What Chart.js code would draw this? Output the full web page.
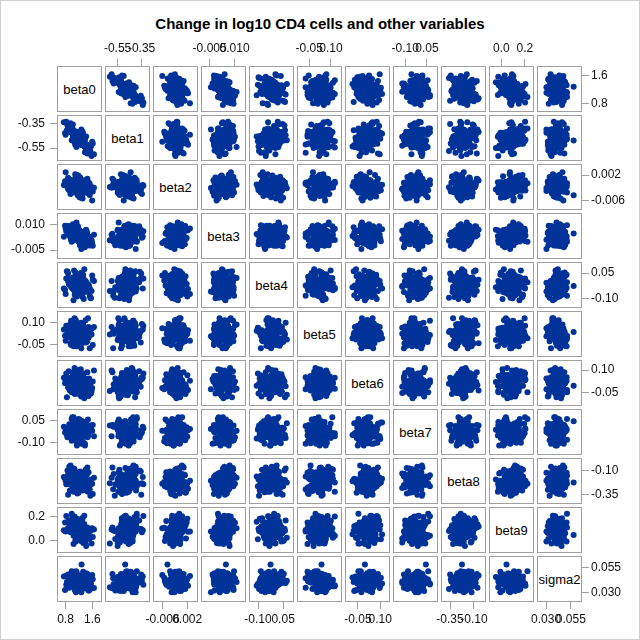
<!DOCTYPE html>
<html>
<head>
<meta charset="utf-8">
<title>Change in log10 CD4 cells and other variables</title>
<script src="https://cdn.jsdelivr.net/npm/chart.js@4.4.0/dist/chart.umd.min.js"></script>
<style>
  html, body { margin: 0; padding: 0; background: #fff; }
  #plot { position: relative; width: 640px; height: 640px; overflow: hidden;
          font-family: "Liberation Sans", Arial, sans-serif; }
  #frame { position: absolute; left: 0; top: 0; width: 640px; height: 640px;
           box-sizing: border-box; border: 1px solid #cfcfcf; }
  #title { position: absolute; left: 0; top: 16px; width: 640px; text-align: center;
           font-size: 15px; line-height: 16px; font-weight: bold; color: #000; }
  .box { position: absolute; box-sizing: border-box; width: 45px; height: 46px;
         border: 1px solid #a0a0a0; }
  .box canvas { display: block; }
  .diag { width: 43px; height: 44px; display: flex; align-items: center;
          justify-content: center; font-size: 13px; color: #000; white-space: nowrap; }
  canvas.axis { position: absolute; pointer-events: none; }
</style>
</head>
<body>
<div id="plot">
  <div id="frame"></div>
  <div id="title">Change in log10 CD4 cells and other variables</div>
</div>
<script>
(function() {
    'use strict';

    // Variables, axis ticks and axis ranges
    const varNames = ['beta0', 'beta1', 'beta2', 'beta3', 'beta4', 'beta5',
                      'beta6', 'beta7', 'beta8', 'beta9', 'sigma2'];
    const tickValues = [[0.8, 1.6], [-0.55, -0.35], [-0.006, 0.002], [-0.005, 0.010],
                        [-0.10, 0.05], [-0.05, 0.10], [-0.05, 0.10], [-0.10, 0.05],
                        [-0.35, -0.10], [0.0, 0.2], [0.030, 0.055]];
    const tickLabels = [['0.8', '1.6'], ['-0.55', '-0.35'], ['-0.006', '0.002'], ['-0.005', '0.010'],
                        ['-0.10', '0.05'], ['-0.05', '0.10'], ['-0.05', '0.10'], ['-0.10', '0.05'],
                        ['-0.35', '-0.10'], ['0.0', '0.2'], ['0.030', '0.055']];
    const axisMin = [0.575, -0.647, -0.0088, -0.0096, -0.148, -0.128, -0.131, -0.178, -0.434, -0.096, 0.0219];
    const axisMax = [1.860, -0.288, 0.0052, 0.0163, 0.109, 0.170, 0.160, 0.120, 0.016, 0.269, 0.0652];

    // Posterior draws (one entry per draw, same order in every array)
    const beta0 = [1.254, 0.984, 1.344, 1.182, 1.470, 1.092, 1.200, 1.578, 1.038, 1.290,
        0.876, 1.236, 1.398, 1.128, 1.164, 1.326, 0.786, 1.362, 1.074, 1.434,
        1.218, 1.020, 1.272, 1.146, 1.524, 0.948, 1.308, 1.110, 1.205, 1.380,
        1.056, 1.650, 0.912, 1.250, 1.190, 1.416, 1.002, 1.280, 1.100, 1.350,
        0.840, 1.230, 1.488, 1.140, 1.040, 1.310, 1.220, 0.966, 1.452, 1.130,
        1.360, 1.160, 0.930, 1.270, 1.596, 1.070, 1.195, 0.858, 1.400, 1.330,
        1.110, 1.260, 1.020, 1.506,
        1.146, 1.416, 1.056, 1.218, 0.930, 1.308, 1.200, 0.822, 1.362, 1.110,
        1.524, 1.164, 1.002, 1.272, 1.236, 1.074, 1.614, 1.038, 1.326, 0.966,
        1.182, 1.380, 1.128, 1.254, 0.876, 1.452, 1.092, 1.290, 1.195, 1.020,
        1.344, 0.750, 1.488, 1.150, 1.210, 0.984, 1.398, 1.120, 1.300, 1.050,
        1.560, 1.170, 0.912, 1.260, 1.360, 1.090, 1.180, 1.434, 0.948, 1.270,
        1.040, 1.240, 1.470, 1.130, 0.804, 1.330, 1.205, 1.542, 1.000, 1.070,
        1.290, 1.140, 1.380, 0.894];
    const beta1 = [-0.465, -0.485, -0.495, -0.428, -0.544, -0.453, -0.446, -0.615, -0.403, -0.515,
        -0.353, -0.475, -0.549, -0.440, -0.473, -0.435, -0.427, -0.485, -0.460, -0.522,
        -0.439, -0.458, -0.399, -0.514, -0.532, -0.418, -0.452, -0.489, -0.453, -0.531,
        -0.410, -0.600, -0.399, -0.426, -0.477, -0.550, -0.405, -0.487, -0.492, -0.453,
        -0.404, -0.447, -0.541, -0.511, -0.420, -0.417, -0.499, -0.418, -0.593, -0.416,
        -0.482, -0.480, -0.400, -0.521, -0.499, -0.432, -0.512, -0.366, -0.518, -0.446,
        -0.471, -0.482, -0.357, -0.570,
        -0.475, -0.455, -0.445, -0.512, -0.396, -0.487, -0.494, -0.335, -0.537, -0.425,
        -0.587, -0.465, -0.391, -0.500, -0.467, -0.505, -0.513, -0.455, -0.480, -0.418,
        -0.501, -0.482, -0.541, -0.426, -0.408, -0.522, -0.488, -0.451, -0.487, -0.409,
        -0.530, -0.340, -0.541, -0.514, -0.463, -0.390, -0.535, -0.453, -0.448, -0.487,
        -0.536, -0.493, -0.399, -0.429, -0.520, -0.523, -0.441, -0.522, -0.347, -0.524,
        -0.458, -0.460, -0.540, -0.419, -0.441, -0.508, -0.428, -0.574, -0.422, -0.494,
        -0.469, -0.458, -0.583, -0.370];
    const beta2 = [-0.00214, -0.00035, -0.00189, -0.00286, -0.00016, -0.00270, -0.00147, -0.00181, -0.00170, -0.00013,
        -0.00235, 0.00126, -0.00355, -0.00127, -0.00131, -0.00222, 0.00002, -0.00219, -0.00137, -0.00160,
        -0.00503, 0.00011, -0.00211, -0.00034, -0.00436, 0.00030, -0.00299, -0.00187, -0.00030, -0.00234,
        -0.00057, -0.00201, -0.00241, -0.00273, 0.00147, -0.00260, -0.00128, -0.00443, 0.00136, -0.00257,
        -0.00034, -0.00217, -0.00389, 0.00205, -0.00089, -0.00547, -0.00007, -0.00073, 0.00085, -0.00300,
        -0.00290, 0.00160, -0.00183, -0.00041, -0.00610, -0.00108, 0.00082, -0.00134, -0.00260, -0.00258,
        -0.00355, -0.00071, -0.00354, -0.00050,
        -0.00106, -0.00285, -0.00131, -0.00034, -0.00304, -0.00050, -0.00173, -0.00139, -0.00150, -0.00307,
        -0.00085, -0.00446, 0.00035, -0.00193, -0.00189, -0.00098, -0.00322, -0.00101, -0.00183, -0.00160,
        0.00183, -0.00331, -0.00109, -0.00286, 0.00116, -0.00350, -0.00021, -0.00133, -0.00290, -0.00086,
        -0.00263, -0.00119, -0.00079, -0.00047, -0.00467, -0.00060, -0.00192, 0.00123, -0.00456, -0.00063,
        -0.00286, -0.00103, 0.00069, -0.00525, -0.00231, 0.00227, -0.00313, -0.00247, -0.00405, -0.00020,
        -0.00030, -0.00480, -0.00137, -0.00279, 0.00290, -0.00212, -0.00402, -0.00186, -0.00060, -0.00062,
        0.00035, -0.00249, 0.00034, -0.00270];
    const beta3 = [0.00276, 0.00899, 0.00396, 0.00008, 0.00098, 0.00507, 0.00326, 0.00090, 0.00371, 0.00591,
        0.00426, -0.00153, 0.00655, 0.00327, 0.00183, 0.00102, 0.00941, 0.00248, 0.00556, -0.00215,
        0.00481, 0.01024, -0.00423, 0.00681, -0.00218, 0.00708, 0.00200, 0.00645, 0.00170, 0.00156,
        0.00564, 0.00402, 0.00477, 0.00164, 0.00143, 0.00699, 0.00290, 0.00480, 0.00927, -0.00240,
        0.00847, -0.00207, 0.00311, 0.00653, 0.00300, 0.00012, 0.00494, 0.00094, 0.00464, 0.00162,
        0.00367, 0.00239, 0.00418, 0.00475, -0.00083, 0.00729, 0.00143, 0.00650, 0.00138, -0.00067,
        0.00972, 0.00050, 0.00722, -0.00203,
        0.00424, -0.00199, 0.00304, 0.00692, 0.00602, 0.00193, 0.00374, 0.00610, 0.00329, 0.00109,
        0.00274, 0.00853, 0.00045, 0.00373, 0.00517, 0.00598, -0.00241, 0.00452, 0.00144, 0.00915,
        0.00219, -0.00324, 0.01123, 0.00019, 0.00918, -0.00008, 0.00500, 0.00055, 0.00530, 0.00544,
        0.00136, 0.00298, 0.00223, 0.00536, 0.00557, 0.00001, 0.00410, 0.00220, -0.00227, 0.00940,
        -0.00147, 0.00907, 0.00389, 0.00047, 0.00400, 0.00688, 0.00206, 0.00606, 0.00236, 0.00538,
        0.00333, 0.00461, 0.00282, 0.00225, 0.00783, -0.00029, 0.00557, 0.00050, 0.00562, 0.00767,
        -0.00272, 0.00650, -0.00022, 0.00903];
    const beta4 = [-0.025, 0.007, -0.101, 0.014, -0.043, 0.029, -0.014, -0.054, -0.004, -0.029,
        0.047, -0.068, 0.004, -0.036, -0.018, 0.018, -0.047, 0.072, -0.076, -0.007,
        -0.022, 0.025, -0.058, 0.000, -0.040, 0.011, -0.090, -0.011, 0.040, -0.029,
        -0.050, 0.004, -0.014, -0.065, 0.032, -0.032, 0.014, -0.025, -0.072, -0.004,
        0.061, -0.043, -0.018, -0.086, 0.022, 0.007, -0.036, -0.007, -0.054, 0.043,
        -0.007, -0.061, 0.011, -0.022, 0.036, -0.040, -0.018, 0.058, -0.050, 0.000,
        -0.083, -0.011, 0.022, -0.032,
        -0.011, -0.043, 0.065, -0.050, 0.007, -0.065, -0.022, 0.018, -0.032, -0.007,
        -0.083, 0.032, -0.040, 0.000, -0.018, -0.054, 0.011, -0.108, 0.040, -0.029,
        -0.014, -0.061, 0.022, -0.036, 0.004, -0.047, 0.054, -0.025, -0.076, -0.007,
        0.014, -0.040, -0.022, 0.029, -0.068, -0.004, -0.050, -0.011, 0.036, -0.032,
        -0.097, 0.007, -0.018, 0.050, -0.058, -0.043, 0.000, -0.029, 0.018, -0.079,
        -0.029, 0.025, -0.047, -0.014, -0.072, 0.004, -0.018, -0.094, 0.014, -0.036,
        0.047, -0.025, -0.058, -0.004];
    const beta5 = [0.001, 0.022, 0.064, -0.012, 0.127, -0.045, 0.035, 0.018, 0.072, -0.024,
        0.043, -0.003, 0.056, -0.062, 0.030, 0.089, 0.009, -0.016, 0.047, 0.026,
        -0.033, 0.081, 0.005, 0.060, 0.014, -0.041, 0.039, 0.114, -0.007, 0.022,
        -0.058, 0.068, 0.051, 0.001, 0.035, -0.020, 0.093, 0.035, -0.028, 0.056,
        0.018, 0.085, -0.003, 0.022, 0.110, -0.016, 0.043, -0.054, 0.030, 0.068,
        0.005, 0.014, 0.051, -0.075, 0.060, -0.007, 0.077, 0.026, -0.020, 0.039,
        0.009, 0.098, -0.037, 0.047,
        0.047, -0.037, 0.098, 0.009, 0.039, -0.020, 0.026, 0.077, -0.007, 0.060,
        -0.075, 0.051, 0.014, 0.005, 0.068, 0.030, -0.054, 0.043, -0.016, 0.110,
        0.022, -0.003, 0.085, 0.018, 0.056, -0.028, 0.035, 0.093, -0.020, 0.035,
        0.001, 0.051, 0.068, -0.058, 0.022, -0.007, 0.114, 0.039, -0.041, 0.014,
        0.060, 0.005, 0.081, -0.033, 0.026, 0.047, -0.016, 0.009, 0.089, 0.030,
        -0.062, 0.056, -0.003, 0.043, -0.024, 0.072, 0.018, 0.035, -0.045, 0.127,
        -0.012, 0.064, 0.022, 0.001];
    const beta6 = [-0.067, 0.021, 0.077, 0.001, -0.023, 0.037, 0.017, -0.039, 0.069, -0.003,
        0.049, 0.005, -0.047, 0.029, 0.101, -0.015, 0.013, -0.063, 0.057, 0.041,
        -0.007, 0.025, -0.027, 0.081, 0.025, -0.035, 0.045, 0.009, 0.073, -0.011,
        0.013, 0.097, -0.023, 0.033, -0.059, 0.021, 0.057, -0.003, 0.005, 0.041,
        -0.079, 0.049, -0.015, 0.065, 0.017, -0.027, 0.029, 0.001, 0.085, -0.043,
        0.037, -0.007, 0.013, 0.053, -0.019, 0.113, -0.051, 0.025, 0.009, 0.061,
        -0.031, 0.033, -0.011, 0.045,
        -0.019, 0.037, -0.007, 0.057, -0.035, 0.017, 0.001, 0.077, -0.087, 0.045,
        -0.027, 0.013, 0.033, -0.011, 0.069, -0.059, 0.025, -0.003, 0.053, 0.009,
        -0.039, 0.041, -0.023, 0.105, -0.015, 0.021, 0.029, -0.031, 0.005, 0.085,
        -0.007, 0.049, -0.071, 0.013, 0.037, -0.047, 0.017, -0.019, 0.061, 0.001,
        -0.055, 0.053, 0.001, 0.033, -0.015, -0.031, 0.089, 0.013, 0.041, -0.075,
        -0.003, 0.073, 0.021, -0.023, 0.029, -0.043, 0.065, 0.009, -0.011, 0.049,
        0.025, -0.051, 0.005, 0.093];
    const beta7 = [-0.037, -0.089, -0.013, 0.059, -0.057, -0.029, -0.105, 0.015, -0.001, -0.049,
        -0.017, -0.069, 0.039, -0.017, -0.077, 0.003, -0.033, 0.031, -0.053, -0.029,
        0.055, -0.065, -0.009, -0.101, -0.021, 0.015, -0.045, -0.037, -0.001, -0.121,
        0.007, -0.057, 0.023, -0.025, -0.069, -0.013, -0.041, 0.043, -0.085, -0.005,
        -0.049, -0.029, 0.011, -0.061, 0.071, -0.093, -0.017, -0.033, 0.019, -0.073,
        -0.009, -0.053, 0.003, -0.109, -0.021, 0.035, -0.041, -0.065, -0.005, -0.025,
        -0.081, 0.027, -0.045, 0.007,
        0.023, -0.025, -0.069, -0.013, -0.041, 0.043, -0.085, -0.005, -0.049, -0.029,
        0.011, -0.061, 0.071, -0.093, -0.017, -0.033, 0.019, -0.073, -0.009, -0.053,
        0.003, -0.109, -0.021, 0.035, -0.041, -0.065, -0.005, -0.025, -0.081, 0.027,
        -0.045, 0.007, -0.037, -0.089, -0.013, 0.059, -0.057, -0.029, -0.105, 0.015,
        -0.001, -0.049, -0.017, -0.069, 0.039, -0.017, -0.077, 0.003, -0.033, 0.031,
        -0.053, -0.029, 0.055, -0.065, -0.009, -0.101, -0.021, 0.015, -0.045, -0.037,
        -0.001, -0.121, 0.007, -0.057];
    const beta8 = [-0.206, -0.076, -0.262, -0.175, -0.318, -0.194, -0.138, -0.231, -0.218, -0.163,
        -0.349, -0.150, -0.249, -0.125, -0.200, -0.268, -0.181, -0.225, -0.094, -0.293,
        -0.169, -0.237, -0.206, -0.144, -0.256, -0.051, -0.305, -0.187, -0.212, -0.132,
        -0.274, -0.175, -0.243, -0.156, -0.330, -0.194, -0.107, -0.225, -0.262, -0.169,
        -0.200, -0.287, -0.119, -0.231, -0.150, -0.218, -0.299, -0.181, -0.070, -0.249,
        -0.206, -0.324, -0.138, -0.163, -0.237, -0.187, -0.268, -0.101, -0.187, -0.280,
        -0.156, -0.212, -0.113, -0.243,
        -0.169, -0.256, -0.082, -0.218, -0.305, -0.187, -0.150, -0.243, -0.212, -0.125,
        -0.293, -0.181, -0.262, -0.194, -0.113, -0.231, -0.342, -0.163, -0.206, -0.088,
        -0.274, -0.249, -0.175, -0.225, -0.144, -0.311, -0.225, -0.132, -0.256, -0.200,
        -0.299, -0.169, -0.206, -0.336, -0.150, -0.237, -0.094, -0.218, -0.274, -0.181,
        -0.194, -0.249, -0.063, -0.262, -0.163, -0.287, -0.212, -0.144, -0.231, -0.187,
        -0.318, -0.119, -0.243, -0.175, -0.206, -0.268, -0.156, -0.361, -0.107, -0.225,
        -0.200, -0.280, -0.138, -0.237];
    const beta9 = [0.111, 0.117, 0.010, 0.157, 0.039, 0.143, 0.078, -0.026, 0.125, 0.184,
        0.090, 0.084, -0.025, 0.149, 0.126, 0.050, 0.148, 0.022, 0.184, 0.076,
        0.028, 0.146, 0.075, 0.166, 0.023, 0.116, 0.177, 0.055, 0.112, -0.018,
        0.114, 0.091, 0.101, 0.072, 0.124, -0.046, 0.153, 0.044, 0.162, 0.077,
        0.080, 0.103, 0.042, 0.180, 0.039, 0.105, 0.062, 0.114, 0.108, 0.058,
        0.205, 0.015, 0.132, 0.075, 0.102, 0.049, 0.112, 0.097, 0.104, -0.022,
        0.108, 0.159, 0.094, 0.011,
        0.065, 0.059, 0.166, 0.019, 0.137, 0.033, 0.098, 0.202, 0.051, -0.008,
        0.086, 0.092, 0.201, 0.027, 0.050, 0.126, 0.028, 0.154, -0.008, 0.100,
        0.148, 0.030, 0.101, 0.010, 0.153, 0.060, -0.001, 0.121, 0.064, 0.194,
        0.062, 0.085, 0.075, 0.104, 0.052, 0.222, 0.023, 0.132, 0.014, 0.099,
        0.096, 0.073, 0.134, -0.004, 0.137, 0.071, 0.114, 0.062, 0.068, 0.118,
        -0.029, 0.161, 0.044, 0.101, 0.074, 0.127, 0.064, 0.079, 0.072, 0.198,
        0.068, 0.017, 0.082, 0.165];
    const sigma2 = [0.0461, 0.0442, 0.0387, 0.0424, 0.0364, 0.0488, 0.0424, 0.0355, 0.0447, 0.0405,
        0.0479, 0.0382, 0.0410, 0.0507, 0.0369, 0.0433, 0.0327, 0.0419, 0.0461, 0.0392,
        0.0401, 0.0442, 0.0304, 0.0451, 0.0378, 0.0470, 0.0415, 0.0364, 0.0428, 0.0396,
        0.0493, 0.0346, 0.0438, 0.0387, 0.0410, 0.0456, 0.0373, 0.0578, 0.0336, 0.0424,
        0.0405, 0.0465, 0.0359, 0.0433, 0.0382, 0.0447, 0.0318, 0.0419, 0.0484, 0.0396,
        0.0369, 0.0438, 0.0415, 0.0350, 0.0474, 0.0392, 0.0451, 0.0401, 0.0341, 0.0428,
        0.0511, 0.0378, 0.0410, 0.0323,
        0.0346, 0.0493, 0.0396, 0.0428, 0.0364, 0.0415, 0.0470, 0.0378, 0.0451, 0.0304,
        0.0442, 0.0401, 0.0392, 0.0461, 0.0419, 0.0327, 0.0433, 0.0369, 0.0507, 0.0410,
        0.0382, 0.0479, 0.0405, 0.0447, 0.0355, 0.0424, 0.0488, 0.0364, 0.0424, 0.0387,
        0.0442, 0.0461, 0.0323, 0.0410, 0.0378, 0.0511, 0.0428, 0.0341, 0.0401, 0.0451,
        0.0392, 0.0474, 0.0350, 0.0415, 0.0438, 0.0369, 0.0396, 0.0484, 0.0419, 0.0318,
        0.0447, 0.0382, 0.0433, 0.0359, 0.0465, 0.0405, 0.0424, 0.0336, 0.0452, 0.0373,
        0.0456, 0.0410, 0.0387, 0.0438];

    const samples = [beta0, beta1, beta2, beta3, beta4, beta5, beta6, beta7, beta8, beta9, sigma2];

    // Layout of the matrix
    const X0 = 57, Y0 = 66;      // top-left of first cell box
    const PX = 48, PY = 49;      // cell pitch
    const IW = 43, IH = 44;      // inner plot size of a cell
    const A = 60;                // room for an edge axis
    const P = 24;                // side room for overflowing labels
    const FONT = '"Liberation Sans", Arial, sans-serif';
    const POINT_COLOR = '#003399';
    const LINE_COLOR = '#a0a0a0';

    const plot = document.getElementById('plot');
    const n = varNames.length;

    const baseOptions = () => ({
        responsive: false,
        animation: false,
        events: [],
        plugins: { legend: { display: false }, tooltip: { enabled: false } }
    });

    // One scatter cell
    function cellChart(canvas, xi, yi) {
        const pts = samples[xi].map((v, k) => ({ x: v, y: samples[yi][k] }));
        const opts = baseOptions();
        opts.layout = { padding: 0, autoPadding: false };
        opts.scales = {
            x: { type: 'linear', display: false, min: axisMin[xi], max: axisMax[xi] },
            y: { type: 'linear', display: false, min: axisMin[yi], max: axisMax[yi] }
        };
        new Chart(canvas, {
            type: 'scatter',
            data: {
                datasets: [{
                    data: pts,
                    pointStyle: 'circle',
                    pointRadius: 3.0,
                    pointBorderWidth: 0,
                    pointBackgroundColor: POINT_COLOR,
                    clip: 3
                }]
            },
            options: opts
        });
    }

    // An edge axis drawn by an empty chart lined up with a cell
    function axisChart(v, side, r, c) {
        const ix = X0 + PX * c + 1, iy = Y0 + PY * r + 1;
        const horiz = side === 'top' || side === 'bottom';
        let left, top, w, h;
        if (side === 'top') {
            left = ix - P; top = iy - A; w = IW + 2 * P; h = A + IH;
        } else if (side === 'bottom') {
            left = ix - P; top = iy; w = IW + 2 * P; h = IH + A;
        } else if (side === 'left') {
            left = ix - A; top = iy - P; w = A + IW; h = IH + 2 * P;
        } else {
            left = ix; top = iy - P; w = IW + A; h = IH + 2 * P;
        }
        const pad = horiz ? { left: P, right: P, top: 0, bottom: 0 }
                          : { left: 0, right: 0, top: P, bottom: P };

        const cv = document.createElement('canvas');
        cv.className = 'axis';
        cv.width = w; cv.height = h;
        cv.style.left = left + 'px';
        cv.style.top = top + 'px';
        cv.style.width = w + 'px';
        cv.style.height = h + 'px';
        plot.appendChild(cv);

        const axis = {
            type: 'linear',
            position: side,
            min: axisMin[v],
            max: axisMax[v],
            afterFit: function(s) {
                if (horiz) s.height = A; else s.width = A;
            },
            afterBuildTicks: function(s) {
                s.ticks = tickValues[v].map(t => ({ value: t }));
            },
            ticks: {
                autoSkip: false,
                maxRotation: 0,
                minRotation: 0,
                padding: side === 'left' ? 5 : (side === 'right' ? 2 : 3),
                color: '#111',
                font: { family: FONT, size: 12 },
                callback: function(val, i) { return tickLabels[v][i]; }
            },
            grid: {
                display: true,
                drawOnChartArea: false,
                drawTicks: true,
                tickLength: 8,
                color: LINE_COLOR,
                lineWidth: 1
            },
            border: { display: false }
        };
        const hidden = { type: 'linear', display: false, min: 0, max: 1 };

        const opts = baseOptions();
        opts.layout = { padding: pad, autoPadding: false };
        opts.scales = horiz ? { x: axis, y: hidden } : { x: hidden, y: axis };
        new Chart(cv, { type: 'scatter', data: { datasets: [] }, options: opts });
    }

    // Cells
    for (let r = 0; r < n; r++) {
        for (let c = 0; c < n; c++) {
            const box = document.createElement('div');
            box.className = 'box';
            box.style.left = (X0 + PX * c) + 'px';
            box.style.top = (Y0 + PY * r) + 'px';
            plot.appendChild(box);

            if (r === c) {
                const lab = document.createElement('div');
                lab.className = 'diag';
                lab.textContent = varNames[r];
                box.appendChild(lab);
            } else {
                const cv = document.createElement('canvas');
                cv.width = IW; cv.height = IH;
                cv.style.width = IW + 'px';
                cv.style.height = IH + 'px';
                box.appendChild(cv);
                cellChart(cv, c, r);
            }
        }
    }

    // Edge axes, alternating sides
    for (let i = 0; i < n; i++) {
        if (i % 2 === 1) {
            axisChart(i, 'top', 0, i);
            axisChart(i, 'left', i, 0);
        } else {
            axisChart(i, 'bottom', n - 1, i);
            axisChart(i, 'right', i, n - 1);
        }
    }

})();
</script>
</body>
</html>
